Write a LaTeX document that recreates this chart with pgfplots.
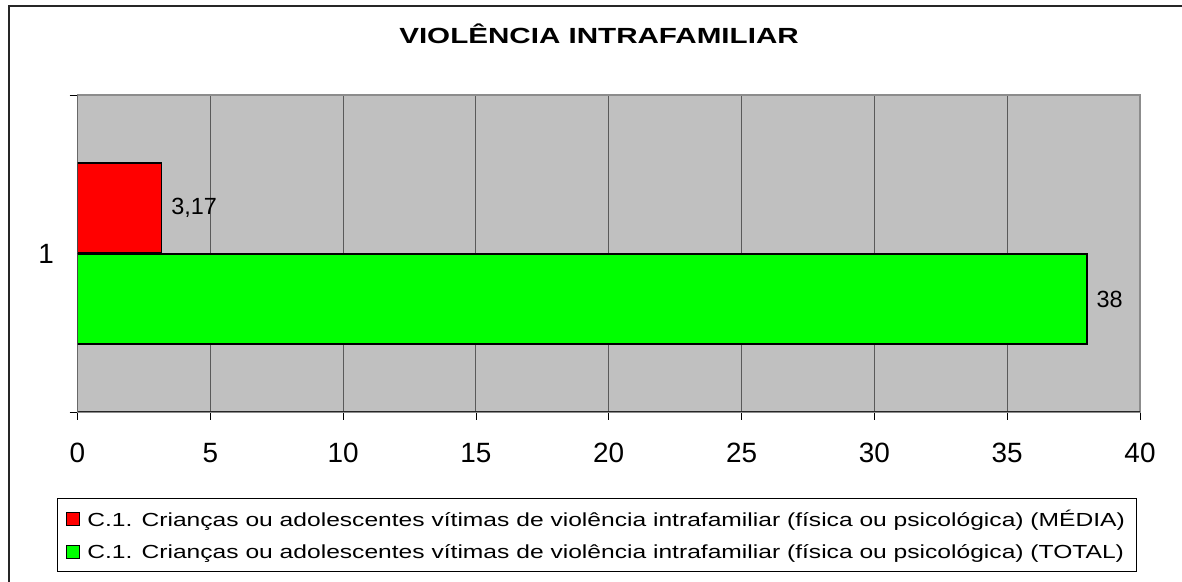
\documentclass[border=0pt]{standalone}
\usepackage{fontspec}
\setmainfont{Liberation Sans}
\usepackage{pgfplots}
\pgfplotsset{compat=1.18}
\definecolor{plotgray}{HTML}{C0C0C0}
\definecolor{gridgray}{HTML}{5A5A5A}
\definecolor{bordergray}{HTML}{8C8C8C}
\definecolor{barred}{HTML}{FF0000}
\definecolor{bargreen}{HTML}{00FF00}
\begin{document}
\begin{tikzpicture}[x=1bp,y=1bp]
\useasboundingbox (0,0) rectangle (1182,582);
\draw[line width=1.5bp, black!85] (9,0) -- (9,576) -- (1182,576);
\node[font=\bfseries\fontsize{22}{26}\selectfont\addfontfeature{FakeStretch=1.35}, anchor=base, inner sep=0pt] at (599,538) {VIOLÊNCIA INTRAFAMILIAR};
\begin{axis}[
  at={(77.5bp,170bp)}, anchor=south west,
  scale only axis, width=1062.5bp, height=317bp,
  xmin=0, xmax=40, ymin=0.5, ymax=1.5,
  xtick={0,5,...,40},
  ytick={0.5,1.5}, yticklabels={1}, y tick label as interval,
  tick pos=left, tick align=outside, major tick length=8bp,
  tick style={black, line width=0.8bp},
  axis background/.style={fill=plotgray},
  axis line style={bordergray, line width=1.6bp},
  xmajorgrids, grid style={gridgray, line width=0.9bp},
  ticklabel style={font=\fontsize{28}{32}\selectfont},
  xticklabel style={yshift=-20bp},
  yticklabel style={xshift=-12bp},
  /pgf/number format/.cd, use comma, assume math mode=true, /pgfplots/.cd,
  xbar,
  nodes near coords,
  every node near coord/.append style={font=\fontsize{23.5}{27}\selectfont, black, inner xsep=9bp},
  legend cell align=left,
  legend image code/.code={\draw[#1, line width=1bp] (0bp,-6.5bp) rectangle (13bp,6.5bp);},
  legend style={at={(axis description cs:-0.0193,-0.2713)}, anchor=north west,
    draw=black, line width=0.8bp, font=\fontsize{19}{22}\selectfont\addfontfeature{FakeStretch=1.3},
    row sep=12bp, column sep=5bp, inner xsep=9bp, inner ysep=10bp},
]
\addplot[fill=barred, draw=black, line width=1.3bp, bar width=0.284, bar shift=0.1435] coordinates {(3.17,1)};
\addlegendentry{C.1. Crianças ou adolescentes vítimas de violência intrafamiliar (física ou psicológica) (MÉDIA)}
\addplot[fill=bargreen, draw=black, line width=1.3bp, bar width=0.284, bar shift=-0.1435] coordinates {(38,1)};
\addlegendentry{C.1. Crianças ou adolescentes vítimas de violência intrafamiliar (física ou psicológica) (TOTAL)}
\draw[black!85, line width=1.6bp] (rel axis cs:0,1) -- (rel axis cs:0,0) -- (rel axis cs:1,0);
\end{axis}
\end{tikzpicture}
\end{document}
